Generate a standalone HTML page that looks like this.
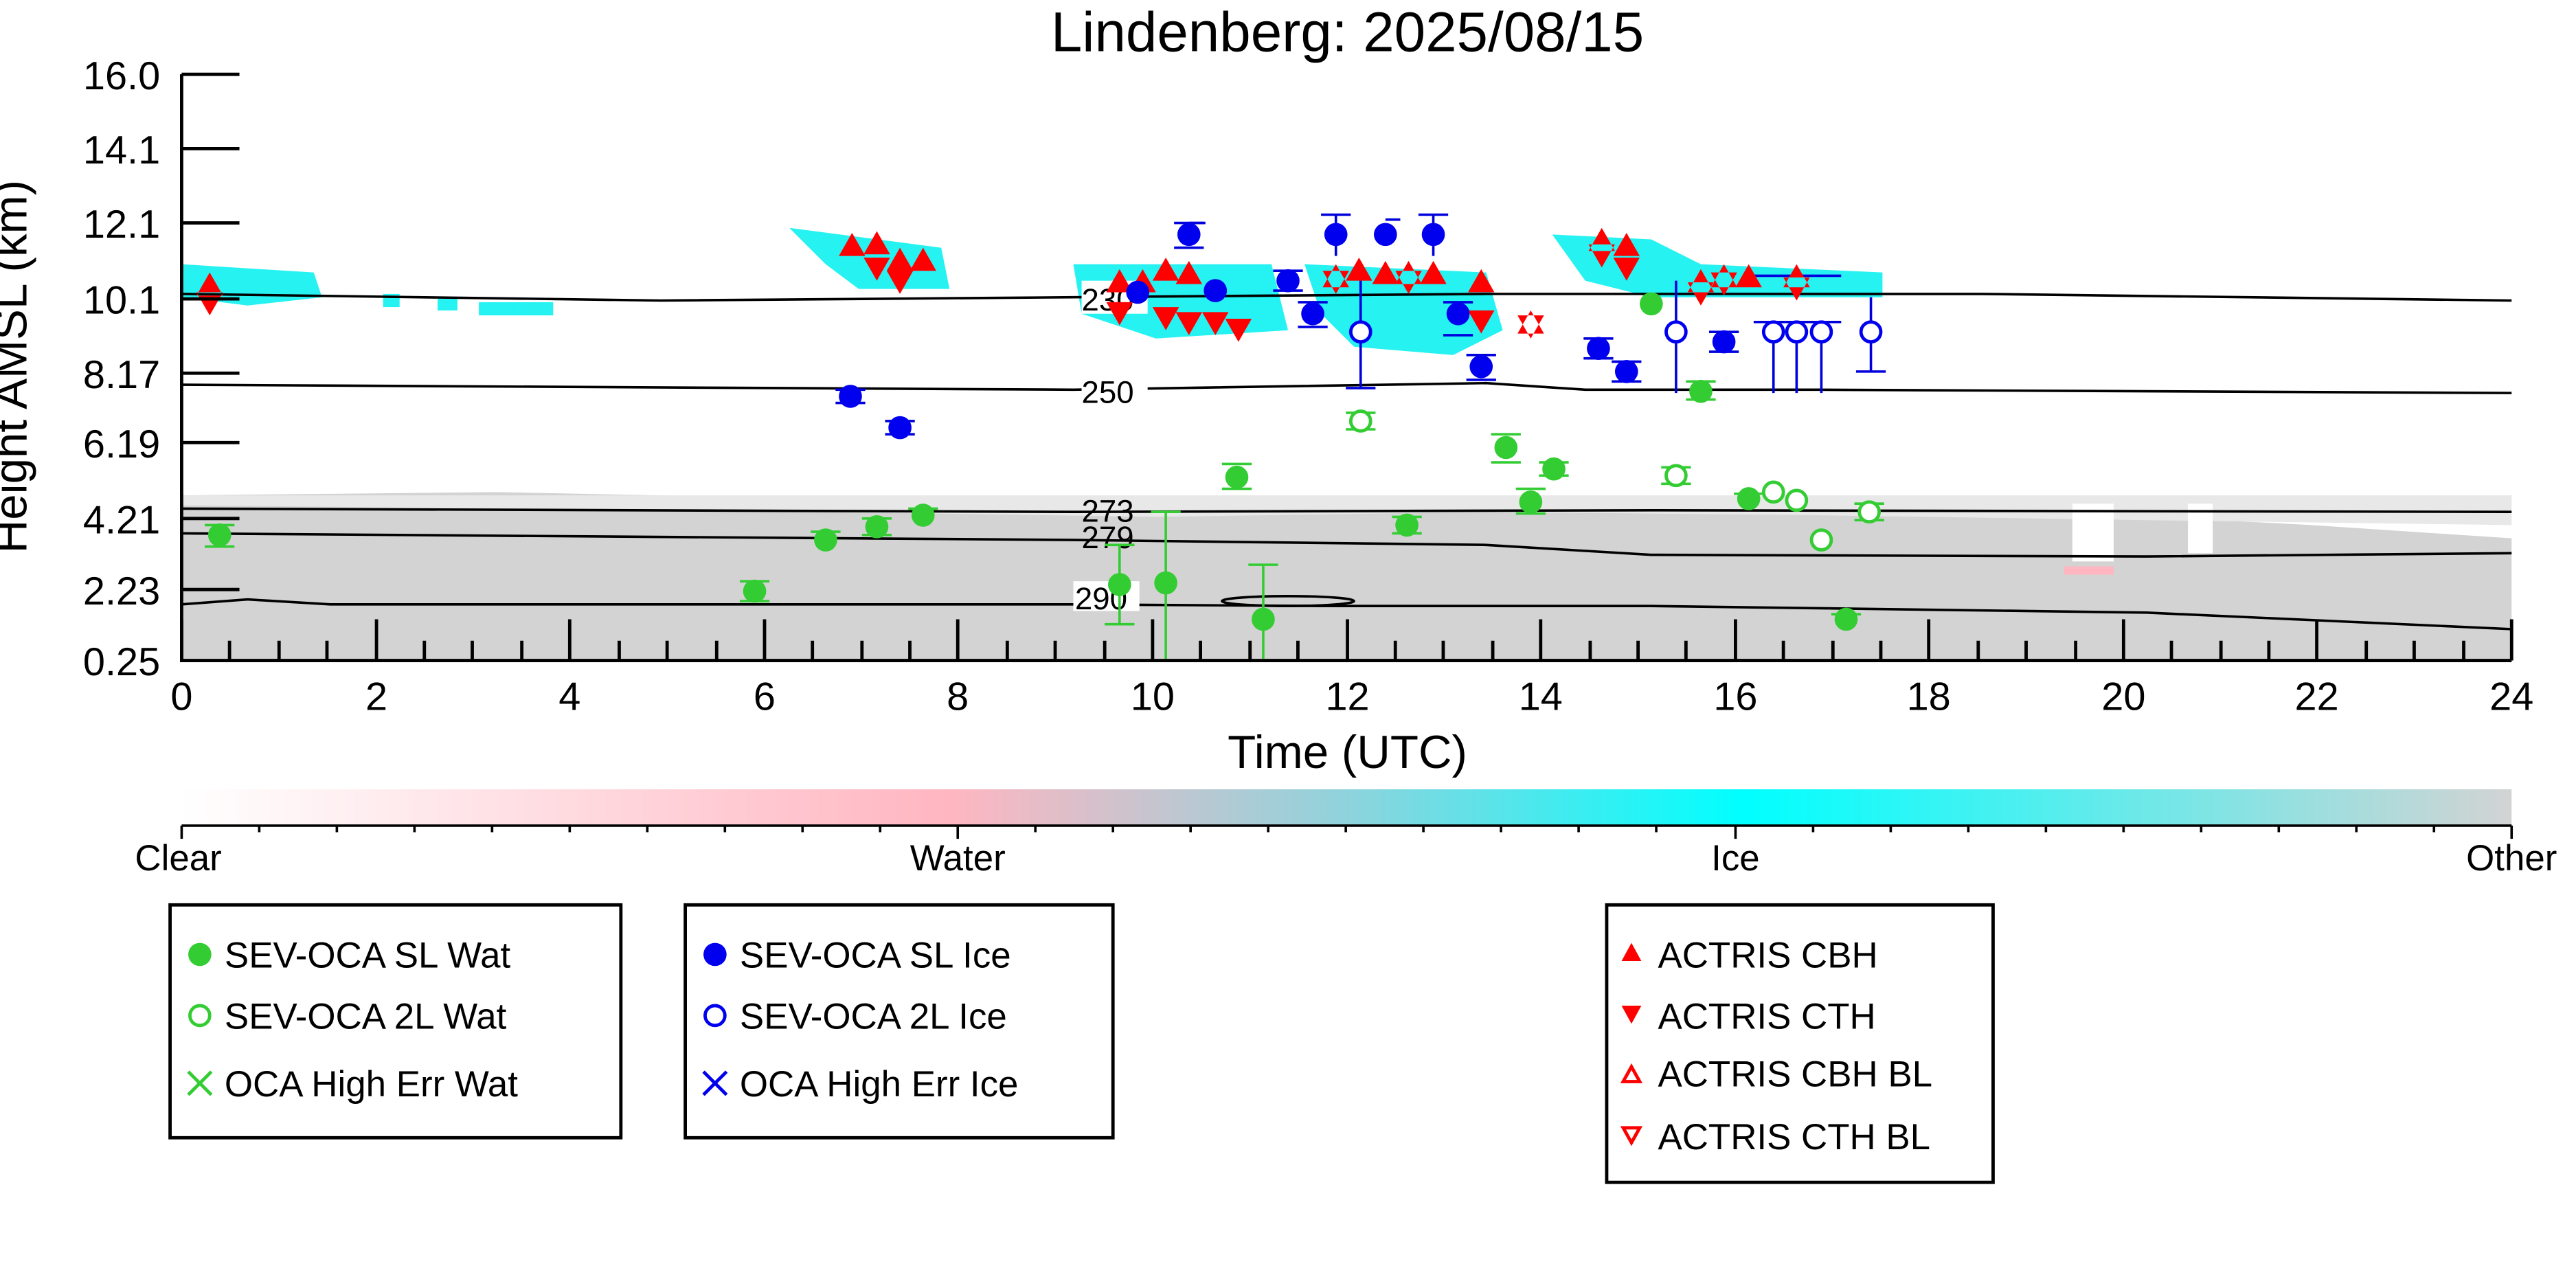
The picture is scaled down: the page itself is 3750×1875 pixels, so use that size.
<!DOCTYPE html>
<html><head><meta charset="utf-8"><style>html,body{margin:0;padding:0;background:#fff}svg{display:block}</style></head>
<body>
<svg width="3750" height="1875" viewBox="0 0 1560 780" xmlns="http://www.w3.org/2000/svg" font-family="Liberation Sans, DejaVu Sans, sans-serif">
<defs>
<linearGradient id="cb" x1="0" x2="1" y1="0" y2="0">
<stop offset="0" stop-color="#ffffff"/>
<stop offset="0.33" stop-color="#ffb6c1"/>
<stop offset="0.5" stop-color="#8fd3dc"/>
<stop offset="0.67" stop-color="#00ffff"/>
<stop offset="1" stop-color="#d3d3d3"/>
</linearGradient>
</defs>
<rect width="1560" height="780" fill="#fff"/>
<text x="816" y="31" font-size="34" text-anchor="middle">Lindenberg: 2025/08/15</text>
<!-- gray region -->
<path d="M110,400 L110,300 L300,298 L500,302 L700,305 L900,302 L1100,304 L1250,310 L1400,318 L1521,326 L1521,400 Z" fill="#d3d3d3"/>
<path d="M110,300 L1521,300 L1521,318 L1300,315 L1100,312 L900,310 L700,313 L500,310 L300,308 L110,306 Z" fill="#e8e8e8"/>
<rect x="1255" y="305" width="25" height="35" fill="#fff"/>
<rect x="1325" y="305" width="15" height="30" fill="#fff"/>
<rect x="1250" y="343" width="30" height="5" fill="#ffb6c1"/>
<!-- cyan patches -->
<g fill="#00f0f0" opacity="0.85">
<path d="M110,160 L190,165 L195,180 L150,185 L110,180Z"/>
<rect x="232" y="178" width="10" height="8"/><rect x="265" y="180" width="12" height="8"/><rect x="290" y="183" width="45" height="8"/>
<path d="M478,138 L570,150 L575,175 L520,175 L500,160Z"/>
<path d="M650,160 L770,160 L780,200 L700,205 L655,190Z"/>
<path d="M790,160 L900,165 L910,200 L880,215 L820,210 L800,190Z"/>
<path d="M940,142 L1000,145 L1030,160 L1140,165 L1140,180 L1000,180 L960,170Z"/>
</g>
<!-- contours -->
<g fill="none" stroke="#000" stroke-width="1.5">
<path d="M110,178 L400,182 L650,180 L900,178 L1200,178 L1521,182"/>
<path d="M110,233 L650,236 L900,232 L960,236 L1100,236 L1521,238"/>
<path d="M110,308 L650,310 L1000,309 L1521,310"/>
<path d="M110,323 L650,327 L900,330 L1000,336 L1300,337 L1521,335"/>
<path d="M110,366 L150,363 L200,366 L400,366 L650,366 L800,367 L1000,367 L1300,371 L1521,381"/>
<ellipse cx="780" cy="364" rx="40" ry="3"/>
</g>
<g font-size="19">
<rect x="655" y="170" width="40" height="20" fill="#fff"/><text x="655" y="188">230</text>
<rect x="655" y="228" width="40" height="18" fill="#fff"/><text x="655" y="244">250</text>
<text x="655" y="316">273</text><text x="655" y="332">279</text>
<rect x="650" y="352" width="40" height="18" fill="#fff"/><text x="651" y="369">290</text>
</g>
<!-- error bars -->
<g stroke-width="1.5" fill="none">
<g stroke="#33cc33">
<path d="M706,310 V400 M697,310 H715 M765,342 V400 M756,342 H774 M678,330 V378 M669,378 H687 M669,330 H687"/>
<path d="M124,318 H142 M124,331 H142 M448,352 H466 M448,364 H466 M491,322 H509 M522,314 H540 M522,324 H540 M550,308 H568 M740,281 H758 M740,296 H758 M843,313 H861 M843,323 H861 M903,263 H921 M903,280 H921 M918,296 H936 M918,311 H936 M932,280 H950 M932,288 H950 M1021,231 H1039 M1021,242 H1039 M1050,299 H1068 M1109,372 H1127 M815,250 H833 M815,260 H833 M1006,283 H1024 M1006,293 H1024 M1123,305 H1141 M1123,315 H1141"/>
</g>
<g stroke="#0000dd">
<path d="M824,170 V235 M815,235 H833 M1015,170 V238 M1074,195 V238 M1088,195 V238 M1103,195 V238 M1133,180 V225 M1124,225 H1142 M1062,195 H1115 M1062,167 H1115 M809,130 V155 M800,130 H818 M839,133 H848 M868,130 V155 M859,130 H877 M720,135 H730"/>
<path d="M506,236 H524 M506,244 H524 M536,255 H554 M536,263 H554 M711,135 H729 M711,150 H729 M771,164 H789 M771,176 H789 M786,183 H804 M786,198 H804 M874,183 H892 M874,203 H892 M888,215 H906 M888,230 H906 M959,205 H977 M959,217 H977 M976,219 H994 M976,231 H994 M1035,201 H1053 M1035,213 H1053"/>
</g>
</g>
<!-- green filled -->
<g fill="#33cc33">
<circle cx="133" cy="324" r="7"/><circle cx="457" cy="358" r="7"/><circle cx="500" cy="327" r="7"/><circle cx="531" cy="319" r="7"/><circle cx="559" cy="312" r="7"/><circle cx="678" cy="354" r="7"/><circle cx="706" cy="353" r="7"/><circle cx="749" cy="289" r="7"/><circle cx="765" cy="375" r="7"/><circle cx="852" cy="318" r="7"/><circle cx="912" cy="271" r="7"/><circle cx="927" cy="304" r="7"/><circle cx="941" cy="284" r="7"/><circle cx="1000" cy="184" r="7"/><circle cx="1030" cy="237" r="7"/><circle cx="1059" cy="302" r="7"/><circle cx="1118" cy="375" r="7"/>
</g>
<g fill="#fff" stroke="#33cc33" stroke-width="2">
<circle cx="824" cy="255" r="6"/><circle cx="1015" cy="288" r="6"/><circle cx="1074" cy="298" r="6"/><circle cx="1088" cy="303" r="6"/><circle cx="1103" cy="327" r="6"/><circle cx="1132" cy="310" r="6"/>
</g>
<!-- red triangles -->
<g fill="#ff0000">
<path d="M127,165 l8,14 h-16Z M127,191 l8,-14 h-16Z M516,141 l8,14 h-16Z M531,140 l8,14 h-16Z M545,150 l8,14 h-16Z M559,150 l8,14 h-16Z M531,170 l8,-14 h-16Z M545,178 l8,-14 h-16Z"/>
<path d="M678,163 l8,14 h-16Z M678,197 l8,-14 h-16Z M692,163 l8,14 h-16Z M706,156 l8,14 h-16Z M720,158 l8,14 h-16Z M706,200 l8,-14 h-16Z M720,203 l8,-14 h-16Z M736,203 l8,-14 h-16Z M750,207 l8,-14 h-16Z"/>
<path d="M809,160 l8,14 h-16Z M823,156 l8,14 h-16Z M839,158 l8,14 h-16Z M853,158 l8,14 h-16Z M868,158 l8,14 h-16Z M809,178 l8,-14 h-16Z M853,178 l8,-14 h-16Z M897,163 l8,14 h-16Z M897,202 l8,-14 h-16Z M927,188 l8,14 h-16Z M927,205 l8,-14 h-16Z"/>
<path d="M970,138 l8,14 h-16Z M985,141 l8,14 h-16Z M970,162 l8,-14 h-16Z M985,170 l8,-14 h-16Z M1030,163 l8,14 h-16Z M1044,160 l8,14 h-16Z M1059,160 l8,14 h-16Z M1088,160 l8,14 h-16Z M1030,185 l8,-14 h-16Z M1044,179 l8,-14 h-16Z M1088,182 l8,-14 h-16Z"/>
</g>
<!-- blue -->
<g fill="#0000ee">
<circle cx="515" cy="240" r="7"/><circle cx="545" cy="259" r="7"/><circle cx="689" cy="177" r="7"/><circle cx="720" cy="142" r="7"/><circle cx="736" cy="176" r="7"/><circle cx="780" cy="170" r="7"/><circle cx="795" cy="190" r="7"/><circle cx="809" cy="142" r="7"/><circle cx="839" cy="142" r="7"/><circle cx="868" cy="142" r="7"/><circle cx="883" cy="190" r="7"/><circle cx="897" cy="222" r="7"/><circle cx="968" cy="211" r="7"/><circle cx="985" cy="225" r="7"/><circle cx="1044" cy="207" r="7"/>
</g>
<g fill="#fff" stroke="#0000ee" stroke-width="2">
<circle cx="824" cy="201" r="6"/><circle cx="1015" cy="201" r="6"/><circle cx="1074" cy="201" r="6"/><circle cx="1088" cy="201" r="6"/><circle cx="1103" cy="201" r="6"/><circle cx="1133" cy="201" r="6"/>
</g>
<!-- axes -->
<g stroke="#000" stroke-width="2" fill="none">
<path d="M110,45 V400 H1521"/>
<path d="M110,45 h35 M110,90 h35 M110,135 h35 M110,181 h35 M110,226 h35 M110,268 h35 M110,314 h35 M110,357 h35"/>
<path d="M110,400 v-25 M228,400 v-25 M345,400 v-25 M463,400 v-25 M580,400 v-25 M698,400 v-25 M816,400 v-25 M933,400 v-25 M1051,400 v-25 M1168,400 v-25 M1286,400 v-25 M1403,400 v-25 M1521,400 v-25"/>
<path d="M169,400 v-12 M286,400 v-12 M404,400 v-12 M522,400 v-12 M639,400 v-12 M757,400 v-12 M874,400 v-12 M992,400 v-12 M1110,400 v-12 M1227,400 v-12 M1345,400 v-12 M1462,400 v-12 M139,400 v-12 M198,400 v-12 M257,400 v-12 M316,400 v-12 M375,400 v-12 M434,400 v-12 M492,400 v-12 M551,400 v-12 M610,400 v-12 M669,400 v-12 M727,400 v-12 M786,400 v-12 M845,400 v-12 M904,400 v-12 M963,400 v-12 M1021,400 v-12 M1080,400 v-12 M1139,400 v-12 M1198,400 v-12 M1257,400 v-12 M1315,400 v-12 M1374,400 v-12 M1433,400 v-12 M1492,400 v-12"/>
</g>
<g font-size="24" text-anchor="end">
<text x="97" y="54">16.0</text><text x="97" y="99">14.1</text><text x="97" y="144">12.1</text><text x="97" y="190">10.1</text><text x="97" y="235">8.17</text><text x="97" y="277">6.19</text><text x="97" y="323">4.21</text><text x="97" y="366">2.23</text><text x="97" y="409">0.25</text>
</g>
<g font-size="24" text-anchor="middle">
<text x="110" y="430">0</text><text x="228" y="430">2</text><text x="345" y="430">4</text><text x="463" y="430">6</text><text x="580" y="430">8</text><text x="698" y="430">10</text><text x="816" y="430">12</text><text x="933" y="430">14</text><text x="1051" y="430">16</text><text x="1168" y="430">18</text><text x="1286" y="430">20</text><text x="1403" y="430">22</text><text x="1521" y="430">24</text>
</g>
<text x="816" y="465" font-size="28" text-anchor="middle">Time (UTC)</text>
<text transform="translate(16,222) rotate(-90)" font-size="28" text-anchor="middle">Height AMSL (km)</text>
<!-- colorbar -->
<rect x="110" y="478" width="1411" height="22" fill="url(#cb)"/>
<g stroke="#000" stroke-width="1.5" fill="none">
<path d="M110,500 H1521"/>
<path d="M110,500 v8 M580,500 v8 M1051,500 v8 M1521,500 v8"/>
<path d="M157,500 v4 M204,500 v4 M251,500 v4 M298,500 v4 M345,500 v4 M392,500 v4 M439,500 v4 M486,500 v4 M533,500 v4 M627,500 v4 M674,500 v4 M721,500 v4 M768,500 v4 M815,500 v4 M862,500 v4 M909,500 v4 M956,500 v4 M1003,500 v4 M1098,500 v4 M1145,500 v4 M1192,500 v4 M1239,500 v4 M1286,500 v4 M1333,500 v4 M1380,500 v4 M1427,500 v4 M1474,500 v4"/>
</g>
<g font-size="22" text-anchor="middle">
<text x="108" y="527">Clear</text><text x="580" y="527">Water</text><text x="1051" y="527">Ice</text><text x="1521" y="527">Other</text>
</g>
<!-- legends -->
<g fill="none" stroke="#000" stroke-width="2">
<rect x="103" y="548" width="273" height="141"/>
<rect x="415" y="548" width="259" height="141"/>
<rect x="973" y="548" width="234" height="168"/>
</g>
<g font-size="22">
<circle cx="121" cy="578" r="7" fill="#33cc33"/><text x="136" y="586">SEV-OCA SL Wat</text>
<circle cx="121" cy="615" r="6" fill="#fff" stroke="#33cc33" stroke-width="2"/><text x="136" y="623">SEV-OCA 2L Wat</text>
<path d="M114,649 l14,14 M128,649 l-14,14" stroke="#33cc33" stroke-width="2"/><text x="136" y="664">OCA High Err Wat</text>
<circle cx="433" cy="578" r="7" fill="#0000ee"/><text x="448" y="586">SEV-OCA SL Ice</text>
<circle cx="433" cy="615" r="6" fill="#fff" stroke="#0000ee" stroke-width="2"/><text x="448" y="623">SEV-OCA 2L Ice</text>
<path d="M426,649 l14,14 M440,649 l-14,14" stroke="#0000ee" stroke-width="2"/><text x="448" y="664">OCA High Err Ice</text>
<path d="M988,571 l6,11 h-12Z" fill="#ff0000"/><text x="1004" y="586">ACTRIS CBH</text>
<path d="M988,620 l6,-11 h-12Z" fill="#ff0000"/><text x="1004" y="623">ACTRIS CTH</text>
<path d="M988,646 l5,9 h-10Z" fill="#fff" stroke="#ff0000" stroke-width="2"/><text x="1004" y="658">ACTRIS CBH BL</text>
<path d="M988,692 l5,-9 h-10Z" fill="#fff" stroke="#ff0000" stroke-width="2"/><text x="1004" y="696">ACTRIS CTH BL</text>
</g>
</svg>
</body></html>
